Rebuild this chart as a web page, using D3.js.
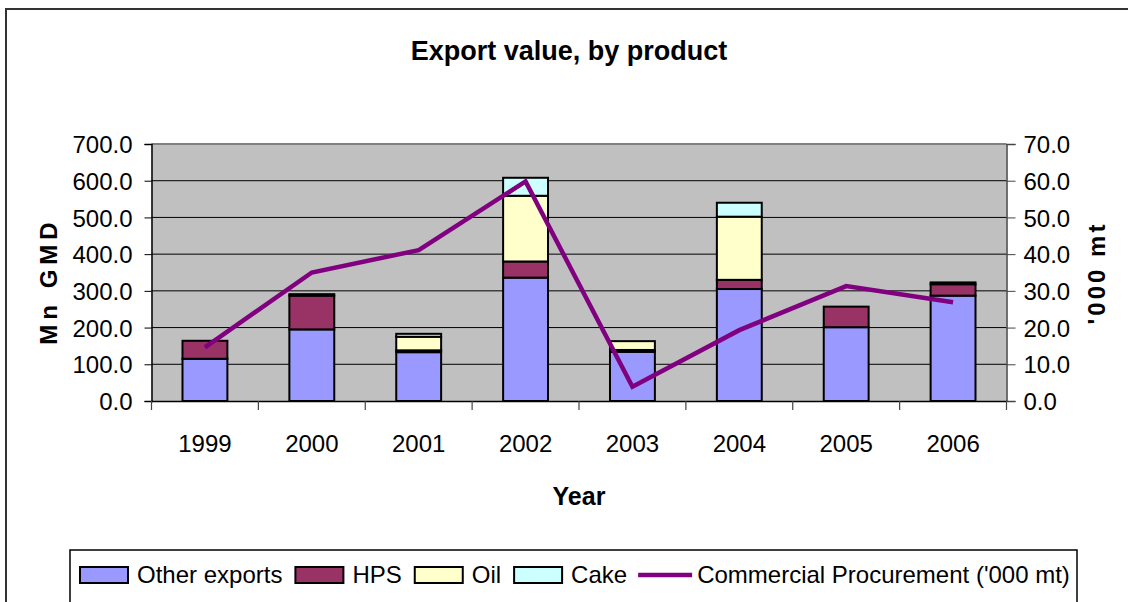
<!DOCTYPE html>
<html>
<head>
<meta charset="utf-8">
<script src="https://cdn.jsdelivr.net/npm/d3@7"></script>
<style>
  body { margin: 0; background: #fff; }
  text { font-family: "Liberation Sans", Arial, sans-serif; fill: #000; }
</style>
</head>
<body>
<div class="canvas"></div>
<script>
const years = ["1999", "2000", "2001", "2002", "2003", "2004", "2005", "2006"]
const otherExports = [115, 195, 133, 336, 134, 305, 201, 287]
const hps = [49, 92, 5, 44, 5, 25, 56, 31]
const oil = [0, 4, 37, 179, 24, 172, 0, 5]
const cake = [0, 0, 8, 49, 0, 38, 0, 0]
const procurement = [14.6, 35.0, 41.1, 59.8, 3.9, 19.3, 31.3, 26.9]

const leftTicks = [0, 100, 200, 300, 400, 500, 600, 700]
const rightTicks = [0, 10, 20, 30, 40, 50, 60, 70]

const seriesKeys = ["Other exports", "HPS", "Oil", "Cake"]
const seriesColors = ["#9999ff", "#993366", "#ffffcc", "#ccffff"]
const lineColor = "#800080"

const svg = d3.select(".canvas")
  .append("svg")
  .attr("width", 1128)
  .attr("height", 602)

// outer chart border (runs off the right / bottom edge)
svg.append("rect")
  .attr("x", 6).attr("y", 9)
  .attr("width", 1140).attr("height", 620)
  .attr("fill", "#fff")
  .attr("stroke", "#333").attr("stroke-width", 2)

const margin = {top: 144, left: 151.5}
const graphWidth = 855
const graphHeight = 257

const graph = svg.append("g")
  .attr("transform", `translate(${margin.left}, ${margin.top})`)

// table for the stack
const table = years.map((y, i) => ({
  year: y,
  "Other exports": otherExports[i],
  "HPS": hps[i],
  "Oil": oil[i],
  "Cake": cake[i]
}))
const stacked = d3.stack().keys(seriesKeys)(table)

const xScale = d3.scaleBand().domain(years).range([0, graphWidth]).padding(0)
const barWidth = xScale.bandwidth() * 0.42

const yScale = d3.scaleLinear().domain([0, 700]).range([graphHeight, 0])
const yScaleRight = d3.scaleLinear().domain([0, 70]).range([graphHeight, 0])

// plot area
graph.append("rect")
  .attr("width", graphWidth).attr("height", graphHeight)
  .attr("fill", "#c0c0c0")

// gridlines
graph.append("g")
  .selectAll("line")
  .data(leftTicks.filter(d => d > 0))
  .enter().append("line")
  .attr("x1", 0).attr("x2", graphWidth)
  .attr("y1", d => yScale(d)).attr("y2", d => yScale(d))
  .attr("stroke", d => d === 700 ? "#808080" : "#000")
  .attr("stroke-width", d => d === 700 ? 2 : 1)

// bars
graph.append("g")
  .selectAll("g")
  .data(stacked)
  .enter().append("g")
  .attr("fill", (d, i) => seriesColors[i])
  .selectAll("rect")
  .data(d => d.filter(s => s[1] - s[0] > 0))
  .enter().append("rect")
  .attr("x", d => xScale(d.data.year) + (xScale.bandwidth() - barWidth) / 2)
  .attr("width", barWidth)
  .attr("y", d => yScale(d[1]))
  .attr("height", d => yScale(d[0]) - yScale(d[1]))
  .attr("stroke", "#000")
  .attr("stroke-width", 2)

// axes
const yAxis = d3.axisLeft(yScale).tickValues(leftTicks).tickFormat(d3.format(".1f")).tickSize(7).tickPadding(12)
const yAxisGroup = graph.append("g").call(yAxis)
yAxisGroup.selectAll("text").style("font-size", "24px").attr("dy", "0.36em")
yAxisGroup.select(".domain").attr("stroke", "#000").attr("stroke-width", 1.5)

const yAxisRight = d3.axisRight(yScaleRight).tickValues(rightTicks).tickFormat(d3.format(".1f")).tickSize(9).tickPadding(8)
const yAxisRightGroup = graph.append("g")
  .attr("transform", `translate(${graphWidth}, 0)`)
  .call(yAxisRight)
yAxisRightGroup.selectAll("text").style("font-size", "24px").attr("dy", "0.36em")
yAxisRightGroup.select(".domain").attr("stroke", "#444").attr("stroke-width", 1.5)
yAxisRightGroup.selectAll(".tick line").attr("stroke", "#444")

const xAxis = d3.axisBottom(xScale).tickSize(0).tickPadding(34)
const xAxisGroup = graph.append("g")
  .attr("transform", `translate(0, ${graphHeight})`)
  .call(xAxis)
xAxisGroup.selectAll("text").style("font-size", "24px")
xAxisGroup.select(".domain").attr("stroke", "#000").attr("stroke-width", 1.5)

// x tick marks sit between categories
xAxisGroup.append("g")
  .selectAll("line")
  .data(years.map(y => xScale(y)).concat([graphWidth]))
  .enter().append("line")
  .attr("x1", d => d).attr("x2", d => d)
  .attr("y1", 0).attr("y2", 9)
  .attr("stroke", "#444").attr("stroke-width", 1.2)

// line series
const lineGenerator = d3.line()
  .x((d, i) => xScale(years[i]) + xScale.bandwidth() / 2)
  .y(d => yScaleRight(d))

graph.append("path")
  .attr("d", lineGenerator(procurement))
  .attr("fill", "none")
  .attr("stroke", lineColor)
  .attr("stroke-width", 4.5)
  .attr("stroke-linejoin", "miter")

// title and axis labels
svg.append("text")
  .attr("x", 569).attr("y", 60)
  .attr("text-anchor", "middle")
  .style("font-size", "27px").style("font-weight", "bold")
  .text("Export value, by product")

svg.append("text")
  .attr("x", 579).attr("y", 505)
  .attr("text-anchor", "middle")
  .style("font-size", "25px").style("font-weight", "bold")
  .text("Year")

svg.append("text")
  .attr("transform", "translate(57, 281) rotate(-90)")
  .attr("text-anchor", "middle")
  .style("font-size", "24px").style("font-weight", "bold")
  .style("letter-spacing", "5px")
  .text("Mn GMD")

svg.append("text")
  .attr("transform", "translate(1105, 273) rotate(-90)")
  .attr("text-anchor", "middle")
  .style("font-size", "24px").style("font-weight", "bold")
  .style("letter-spacing", "3px")
  .text("'000 mt")

// legend
const legend = svg.append("g")
legend.append("rect")
  .attr("x", 70).attr("y", 550)
  .attr("width", 1007).attr("height", 60)
  .attr("fill", "#fff").attr("stroke", "#000").attr("stroke-width", 1.5)

const legendItems = seriesKeys.map((k, i) => ({label: k, color: seriesColors[i], type: "box"}))
  .concat([{label: "Commercial Procurement ('000 mt)", color: lineColor, type: "line"}])

let lx = 80
legendItems.forEach(item => {
  if (item.type === "box") {
    legend.append("rect")
      .attr("x", lx).attr("y", 567)
      .attr("width", 48).attr("height", 16)
      .attr("fill", item.color).attr("stroke", "#000").attr("stroke-width", 2)
  } else {
    legend.append("line")
      .attr("x1", lx - 2).attr("x2", lx + 52)
      .attr("y1", 575).attr("y2", 575)
      .attr("stroke", item.color).attr("stroke-width", 4.5)
  }
  const t = legend.append("text")
    .attr("x", lx + 57).attr("y", 583)
    .style("font-size", "24px")
    .text(item.label)
  lx += 57 + t.node().getComputedTextLength() + 13
})
</script>
</body>
</html>
